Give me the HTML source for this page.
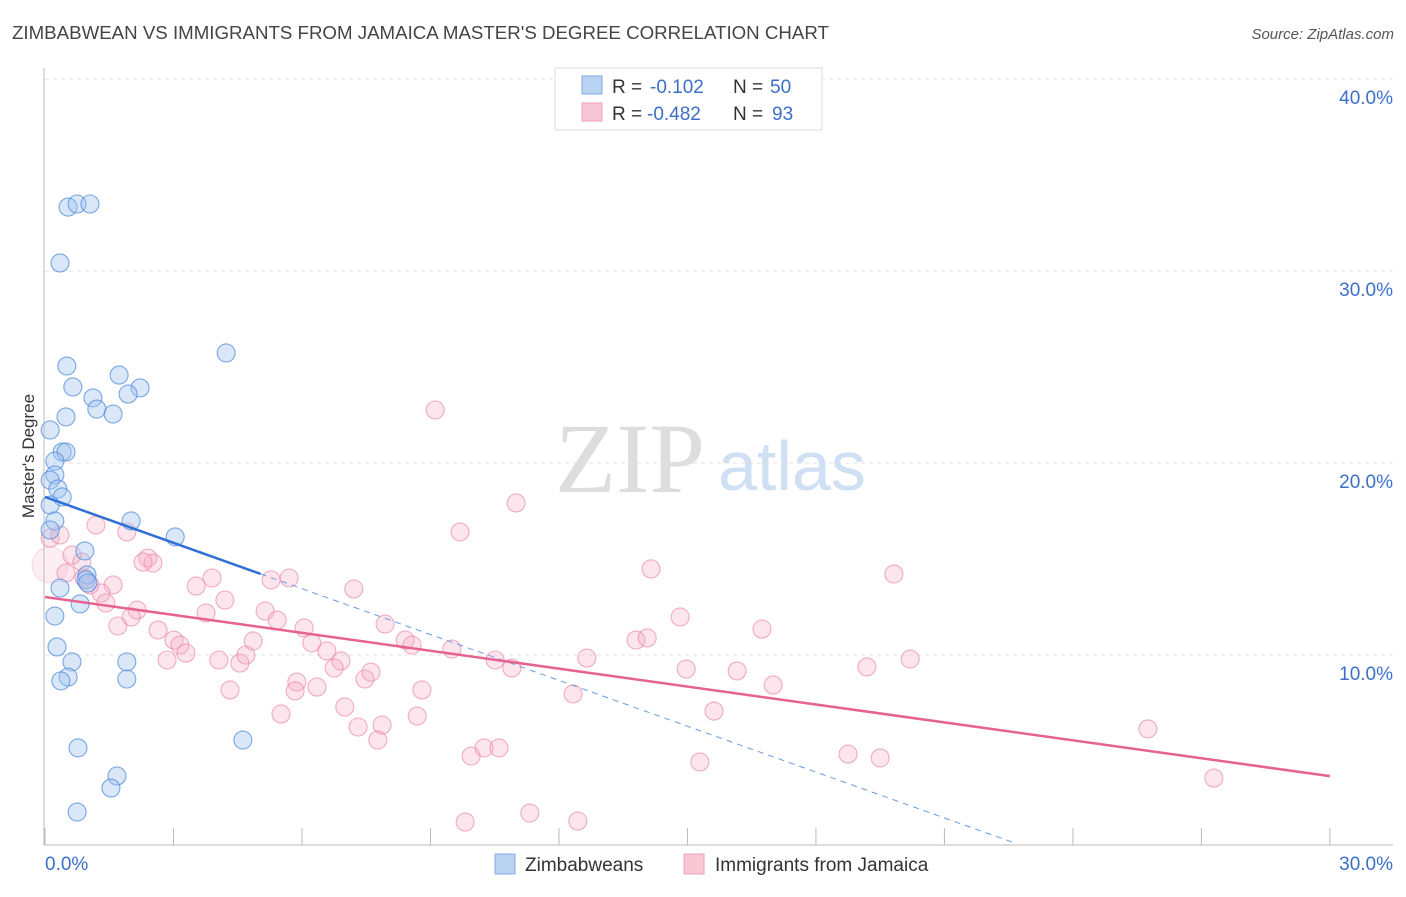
<!DOCTYPE html>
<html><head><meta charset="utf-8"><style>
body{margin:0;background:#fff;font-family:"Liberation Sans",sans-serif}
svg text{font-family:"Liberation Sans",sans-serif}
</style></head><body>
<svg id="chart" width="1406" height="892">
<text x="12" y="39" font-size="18.7" fill="#444">ZIMBABWEAN VS IMMIGRANTS FROM JAMAICA MASTER'S DEGREE CORRELATION CHART</text>
<text x="1394" y="39" font-size="15" fill="#555" font-style="italic" text-anchor="end">Source: ZipAtlas.com</text>
<text x="555" y="492" font-size="100" fill="#ddd" style="font-family:'Liberation Serif',serif">ZIP</text>
<text x="718" y="490" font-size="70" fill="#cfe0f4">atlas</text>
<g id="grid"></g><g id="axes"></g><g id="marks"></g>
<text transform="translate(34,456) rotate(-90)" font-size="17" fill="#333" text-anchor="middle">Master's Degree</text>
<g>
<rect x="555" y="68" width="267" height="62" fill="#fff" stroke="#ddd"/>
<rect x="582" y="76" width="20" height="18" fill="#b9d3f3" stroke="#7ea9e0"/>
<rect x="582" y="103" width="20" height="18" fill="#f9c6d6" stroke="#eea0ba"/>
<text x="612" y="93" font-size="19" fill="#333">R =</text>
<text x="650" y="93" font-size="19" fill="#3b6fc9">-0.102</text>
<text x="733" y="93" font-size="19" fill="#333">N =</text>
<text x="770" y="93" font-size="19" fill="#3b6fc9">50</text>
<text x="612" y="120" font-size="19" fill="#333">R =</text>
<text x="647" y="120" font-size="19" fill="#3b6fc9">-0.482</text>
<text x="733" y="120" font-size="19" fill="#333">N =</text>
<text x="772" y="120" font-size="19" fill="#3b6fc9">93</text>
</g>
<g>
<rect x="495" y="854" width="20" height="20" fill="#b9d3f3" stroke="#7ea9e0"/>
<text x="525" y="871" font-size="19" fill="#333">Zimbabweans</text>
<rect x="684" y="854" width="20" height="20" fill="#f9c6d6" stroke="#eea0ba"/>
<text x="715" y="871" font-size="19" fill="#333">Immigrants from Jamaica</text>
</g>
</svg>
<script>
const yTicks=[10,20,30,40];
const yTickLabels=["10.0%","20.0%","30.0%","40.0%"];
const xTickLabels=["0.0%","30.0%"];
const blueX=[0.54,0.75,1.05,0.35,4.23,0.51,1.73,0.65,2.22,1.12,1.94,1.21,1.59,0.49,0.12,0.40,0.49,0.23,0.23,0.12,0.30,0.40,0.12,0.23,2.01,0.12,3.04,0.93,0.98,0.96,1.00,0.35,0.82,0.23,0.28,0.63,1.91,0.54,0.37,1.91,4.62,0.77,1.68,1.54,0.75];
const blueY=[33.33,33.49,33.49,30.42,25.73,25.05,24.58,23.96,23.91,23.39,23.59,22.81,22.55,22.40,21.72,20.57,20.57,20.10,19.38,19.11,18.65,18.23,17.81,16.98,16.98,16.51,16.15,15.42,14.17,13.91,13.75,13.49,12.66,12.03,10.42,9.64,9.64,8.85,8.65,8.75,5.57,5.16,3.70,3.07,1.82];
const pinkX=[9.11,11.00,9.69,1.19,1.91,0.12,0.35,0.12,2.40,2.52,2.29,0.63,0.86,0.49,0.91,1.05,1.59,3.53,3.90,5.28,5.70,7.21,14.15,19.82,1.31,1.42,2.15,2.01,3.76,4.20,5.14,5.42,6.05,7.94,14.83,1.70,2.64,3.01,3.15,3.29,2.85,4.06,4.55,4.69,4.86,6.23,6.58,6.91,6.75,8.41,8.57,9.50,10.51,10.90,12.65,13.80,14.06,16.74,14.97,16.16,19.19,20.20,4.32,5.88,5.84,6.35,7.47,7.61,8.80,12.33,17.00,7.00,5.51,8.69,15.62,7.31,7.87,7.77,9.95,10.25,10.60,18.75,19.50,15.29,25.75,27.29,11.32,9.81,12.44];
const pinkY=[22.76,17.92,16.41,16.77,16.41,16.09,16.25,14.69,15.05,14.79,14.84,15.21,14.84,14.27,14.01,13.65,13.65,13.59,14.01,13.91,14.01,13.44,14.48,14.22,13.23,12.71,12.34,11.98,12.19,12.86,12.29,11.82,11.41,11.61,11.98,11.51,11.30,10.78,10.52,10.10,9.74,9.74,9.58,10.00,10.73,10.63,10.21,9.69,9.32,10.78,10.52,10.31,9.74,9.32,9.84,10.78,10.89,11.35,9.27,9.17,9.38,9.79,8.18,8.59,8.13,8.33,8.75,9.11,8.18,7.97,8.44,7.29,6.93,6.82,7.08,6.25,6.35,5.57,4.74,5.16,5.16,4.84,4.64,4.43,6.15,3.59,1.77,1.30,1.35];
const blueTrend=[18.23,-0.796];
const pinkTrend=[13.02,-0.311];
const NS="http://www.w3.org/2000/svg";
const xs=v=>45+v*42.83, ys=v=>847-v*19.2;
function mk(t,a,p){const e=document.createElementNS(NS,t);for(const k in a)e.setAttribute(k,a[k]);document.getElementById(p).appendChild(e);return e;}
yTicks.forEach((t,i)=>{
 const l=mk('line',{x1:45,x2:1393,y1:ys(t),y2:ys(t),stroke:'#e2e2e2','stroke-dasharray':'4,4'},'grid');
 
 
 const tx=mk('text',{x:1393,y:ys(t)+25,'font-size':19,fill:'#3b6fc9','text-anchor':'end'},'axes');tx.textContent=yTickLabels[i];
 
 
});
mk('line',{x1:44,x2:44,y1:68,y2:845,stroke:'#bbb'},'axes');
mk('line',{x1:44,x2:1393,y1:845,y2:845,stroke:'#bbb'},'axes');
for(let i=0;i<=10;i++){mk('line',{x1:xs(i*3),x2:xs(i*3),y1:828,y2:845,stroke:'#bbb'},'axes');}
[[0,'start',45],[30,'end',1393]].forEach((d,i)=>{const t=mk('text',{x:d[2],y:870,'font-size':19,fill:'#3b6fc9','text-anchor':d[1]},'axes');t.textContent=xTickLabels[i];
 
 });
pinkX.forEach((x,i)=>{const big=i==7;const c=mk('circle',{cx:xs(x),cy:ys(pinkY[i]),r:(big?18:9),fill:big?'rgba(245,170,195,0.2)':'rgba(245,170,195,0.3)',stroke:big?'rgba(235,130,165,0.25)':'rgba(235,130,165,0.65)','stroke-width':1.1},'marks');
 
 });
blueX.forEach((x,i)=>{const c=mk('circle',{cx:xs(x),cy:ys(blueY[i]),r:9,fill:'rgba(160,195,240,0.4)',stroke:'rgba(80,140,220,0.75)','stroke-width':1.1},'marks');
 
 });
const bEnd=5.03, bFar=22.65;
let l=mk('line',{x1:xs(0),y1:ys(blueTrend[0]),x2:xs(bEnd),y2:ys(blueTrend[0]+blueTrend[1]*bEnd),stroke:'#2f6fd6','stroke-width':2.5},'marks');


l=mk('line',{x1:xs(bEnd),y1:ys(blueTrend[0]+blueTrend[1]*bEnd),x2:xs(bFar),y2:ys(blueTrend[0]+blueTrend[1]*bFar),stroke:'#6a9be0','stroke-width':1,'stroke-dasharray':'6,5'},'marks');


l=mk('line',{x1:xs(0),y1:ys(pinkTrend[0]),x2:xs(30),y2:ys(pinkTrend[0]+pinkTrend[1]*30),stroke:'#e6628f','stroke-width':2.5},'marks');


</script>
</body></html>
